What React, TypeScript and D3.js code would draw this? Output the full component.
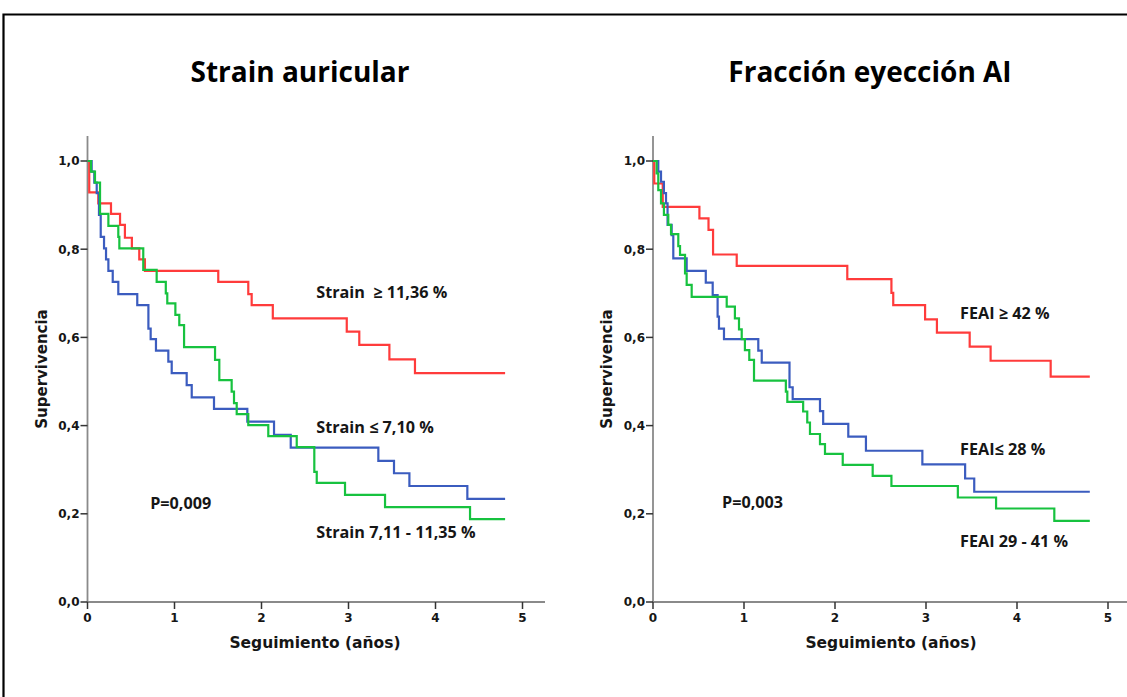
import React from 'react';
import * as d3 from 'd3';

// Axis ticks
const yearTicks = [0, 1, 2, 3, 4, 5];
const survTicks = [0, 0.2, 0.4, 0.6, 0.8, 1.0];

// Strain auricular — Kaplan-Meier step curves (time in years, cumulative survival)
const strainHighTime = [0, 0.02, 0.124, 0.27, 0.374, 0.43, 0.51, 0.595, 0.66, 1.503, 1.848, 1.887, 2.13, 2.98, 3.124, 3.47, 3.764, 4.8];
const strainHighSurv = [1, 0.929, 0.904, 0.880, 0.855, 0.826, 0.802, 0.777, 0.751, 0.726, 0.698, 0.673, 0.643, 0.613, 0.583, 0.550, 0.519, 0.519];

const strainMidTime = [0, 0.04, 0.086, 0.144, 0.24, 0.354, 0.366, 0.641, 0.795, 0.9, 0.917, 1.01, 1.055, 1.11, 1.466, 1.515, 1.657, 1.684, 1.715, 1.848, 2.078, 2.405, 2.607, 2.635, 2.96, 3.42, 4.397, 4.8];
const strainMidSurv = [1, 0.976, 0.951, 0.880, 0.853, 0.828, 0.802, 0.753, 0.726, 0.700, 0.677, 0.651, 0.628, 0.578, 0.549, 0.503, 0.477, 0.451, 0.426, 0.401, 0.376, 0.351, 0.295, 0.270, 0.243, 0.215, 0.188, 0.188];

const strainLowTime = [0, 0.048, 0.078, 0.106, 0.132, 0.152, 0.19, 0.213, 0.24, 0.29, 0.354, 0.572, 0.70, 0.726, 0.787, 0.929, 0.968, 1.14, 1.198, 1.454, 1.837, 2.144, 2.336, 3.343, 3.523, 3.70, 4.366, 4.8];
const strainLowSurv = [1, 0.976, 0.951, 0.927, 0.878, 0.828, 0.802, 0.777, 0.751, 0.726, 0.698, 0.673, 0.620, 0.596, 0.570, 0.545, 0.519, 0.492, 0.464, 0.438, 0.409, 0.379, 0.350, 0.320, 0.292, 0.263, 0.234, 0.234];

// Fracción de eyección AI — Kaplan-Meier step curves
const feaiHighTime = [0, 0.014, 0.107, 0.51, 0.61, 0.66, 0.92, 2.135, 2.62, 2.64, 2.99, 3.12, 3.48, 3.71, 4.37, 4.8];
const feaiHighSurv = [1, 0.949, 0.896, 0.870, 0.844, 0.788, 0.762, 0.732, 0.701, 0.673, 0.641, 0.611, 0.579, 0.547, 0.511, 0.511];

const feaiLowTime = [0, 0.058, 0.088, 0.12, 0.143, 0.16, 0.205, 0.223, 0.37, 0.58, 0.656, 0.71, 0.725, 0.78, 1.157, 1.195, 1.50, 1.535, 1.835, 1.87, 2.146, 2.34, 2.96, 3.43, 3.53, 4.8];
const feaiLowSurv = [1, 0.976, 0.953, 0.927, 0.904, 0.855, 0.832, 0.779, 0.751, 0.724, 0.696, 0.647, 0.620, 0.596, 0.570, 0.543, 0.487, 0.460, 0.433, 0.404, 0.375, 0.343, 0.312, 0.280, 0.250, 0.250];

const feaiMidTime = [0, 0.04, 0.058, 0.088, 0.12, 0.168, 0.198, 0.278, 0.297, 0.352, 0.37, 0.425, 0.81, 0.90, 0.945, 0.975, 1.01, 1.058, 1.11, 1.46, 1.476, 1.65, 1.695, 1.725, 1.835, 1.89, 2.085, 2.414, 2.62, 3.35, 3.77, 4.41, 4.8];
const feaiMidSurv = [1, 0.972, 0.934, 0.904, 0.878, 0.855, 0.834, 0.807, 0.787, 0.745, 0.719, 0.692, 0.670, 0.643, 0.618, 0.596, 0.571, 0.549, 0.502, 0.477, 0.454, 0.432, 0.407, 0.381, 0.358, 0.336, 0.311, 0.286, 0.263, 0.237, 0.212, 0.184, 0.184];

const RED = '#ff3b3b';
const GREEN = '#17c23f';
const BLUE = '#3b5cbf';

const AXIS_COLOR = '#8a8a8a';
const TEXT_COLOR = '#161616';
const LABEL_FONT = '"Open Sans", Lato, sans-serif';
const AXIS_FONT = '"DejaVu Sans", Verdana, sans-serif';

const fmtSurv = (v: number) => d3.format('.1f')(v).replace('.', ',');

type Curve = { time: number[]; surv: number[]; color: string };
type Label = { text: string; t: number; s: number };

const Y_TOP = 161;
const Y_ZERO = 602;
const AXIS_TOP = 136;

function KMPanel(props: {
  xStart: number;
  pxPerYear: number;
  axisEnd: number;
  title: string;
  titleX: number;
  xTitleX: number;
  yTitleX: number;
  yTitleY: number;
  curves: Curve[];
  labels: Label[];
}) {
  const { xStart, pxPerYear, axisEnd, title, titleX, xTitleX, yTitleX, yTitleY, curves, labels } = props;
  const x = d3.scaleLinear().domain([0, 5]).range([xStart, xStart + 5 * pxPerYear]);
  const y = d3.scaleLinear().domain([0, 1]).range([Y_ZERO, Y_TOP]);
  const line = d3
    .line<[number, number]>()
    .x((d) => x(d[0]))
    .y((d) => y(d[1]))
    .curve(d3.curveStepAfter);

  return (
    <g>
      <text x={titleX} y={82} textAnchor="middle" fontFamily={LABEL_FONT} fontWeight={700} fontSize={28} fill="#000">
        {title}
      </text>

      {/* axes */}
      <line x1={xStart} x2={xStart} y1={AXIS_TOP} y2={Y_ZERO} stroke={AXIS_COLOR} strokeWidth={1.8} />
      <line x1={xStart} x2={axisEnd} y1={Y_ZERO} y2={Y_ZERO} stroke={AXIS_COLOR} strokeWidth={1.8} />
      {survTicks.map((v) => (
        <g key={'y' + v}>
          <line x1={xStart - 7} x2={xStart} y1={y(v)} y2={y(v)} stroke="#333" strokeWidth={1.5} />
          <text x={xStart - 8} y={y(v)} dy="0.36em" textAnchor="end" fontFamily={AXIS_FONT} fontWeight={700} fontSize={12} fill={TEXT_COLOR}>
            {fmtSurv(v)}
          </text>
        </g>
      ))}
      {yearTicks.map((v) => (
        <g key={'x' + v}>
          <line x1={x(v)} x2={x(v)} y1={Y_ZERO} y2={Y_ZERO + 7} stroke="#333" strokeWidth={1.5} />
          <text x={x(v)} y={Y_ZERO + 20} textAnchor="middle" fontFamily={AXIS_FONT} fontWeight={700} fontSize={12} fill={TEXT_COLOR}>
            {v}
          </text>
        </g>
      ))}
      <text x={xTitleX} y={648} textAnchor="middle" fontFamily={AXIS_FONT} fontWeight={700} fontSize={15.5} fill={TEXT_COLOR}>
        Seguimiento (años)
      </text>
      <text
        transform={`translate(${yTitleX},${yTitleY}) rotate(-90)`}
        textAnchor="middle"
        dy="0.36em"
        fontFamily={AXIS_FONT}
        fontWeight={700}
        fontSize={15}
        fill={TEXT_COLOR}
      >
        Supervivencia
      </text>

      {/* survival curves */}
      {curves.map((c, i) => (
        <path
          key={i}
          d={line(c.time.map((t, j) => [t, c.surv[j]] as [number, number])) || ''}
          fill="none"
          stroke={c.color}
          strokeWidth={2.2}
        />
      ))}

      {labels.map((l) => (
        <text
          key={l.text}
          x={x(l.t)}
          y={y(l.s)}
          fontFamily={LABEL_FONT}
          fontWeight={700}
          fontSize={16.2}
          fill={TEXT_COLOR}
          style={{ whiteSpace: 'pre' }}
        >
          {l.text}
        </text>
      ))}
    </g>
  );
}

export default function App() {
  return (
    <svg
      width={1127}
      height={697}
      viewBox="0 0 1127 697"
      style={{ position: 'absolute', left: 0, top: 0, background: '#fff' }}
    >
      <rect x={0} y={0} width={1127} height={697} fill="#fff" />
      <path d="M3.5,697 V14.5 H1127" fill="none" stroke="#000" strokeWidth={2.2} />

      <KMPanel
        xStart={87.5}
        pxPerYear={87}
        axisEnd={545}
        title="Strain auricular"
        titleX={300}
        xTitleX={315}
        yTitleX={42}
        yTitleY={369}
        curves={[
          { time: strainHighTime, surv: strainHighSurv, color: RED },
          { time: strainLowTime, surv: strainLowSurv, color: BLUE },
          { time: strainMidTime, surv: strainMidSurv, color: GREEN },
        ]}
        labels={[
          { text: 'Strain  ≥ 11,36 %', t: 2.63, s: 0.689 },
          { text: 'Strain ≤ 7,10 %', t: 2.63, s: 0.3825 },
          { text: 'Strain 7,11 - 11,35 %', t: 2.63, s: 0.1444 },
          { text: 'P=0,009', t: 0.72, s: 0.212 },
        ]}
      />

      <KMPanel
        xStart={653}
        pxPerYear={91}
        axisEnd={1127}
        title="Fracción eyección AI"
        titleX={870}
        xTitleX={891}
        yTitleX={607}
        yTitleY={369}
        curves={[
          { time: feaiHighTime, surv: feaiHighSurv, color: RED },
          { time: feaiLowTime, surv: feaiLowSurv, color: BLUE },
          { time: feaiMidTime, surv: feaiMidSurv, color: GREEN },
        ]}
        labels={[
          { text: 'FEAI ≥ 42 %', t: 3.374, s: 0.641 },
          { text: 'FEAI≤ 28 %', t: 3.374, s: 0.333 },
          { text: 'FEAI 29 - 41 %', t: 3.374, s: 0.1254 },
          { text: 'P=0,003', t: 0.758, s: 0.213 },
        ]}
      />
    </svg>
  );
}
